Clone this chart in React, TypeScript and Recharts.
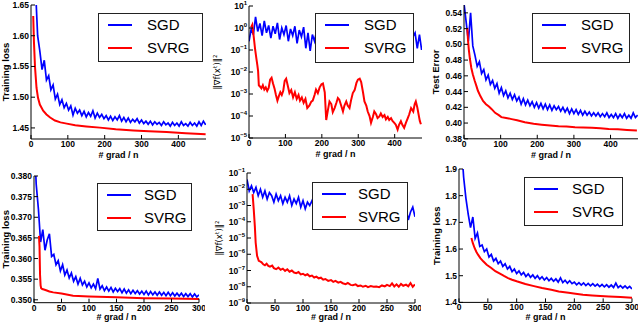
import React from "react";
import { LineChart, Line, XAxis, YAxis } from "recharts";

// sample positions (# grad / n)
const TOP_X = [0,6,12,18,24,30,36,42,48,54,60,66,72,78,84,90,96,102,108,114,120,126,132,138,144,150,156,162,168,174,180,186,192,198,204,210,216,222,228,234,240,246,252,258,264,270,276,282,288,294,300,306,312,318,324,330,336,342,348,354,360,366,372,378,384,390,396,402,408,414,420,426,432,438,444,450,456,462,468,474];
const BOTTOM_X = [0,4,8,12,16,20,24,28,32,36,40,44,48,52,56,60,64,68,72,76,80,84,88,92,96,100,104,108,112,116,120,124,128,132,136,140,144,148,152,156,160,164,168,172,176,180,184,188,192,196,200,204,208,212,216,220,224,228,232,236,240,244,248,252,256,260,264,268,272,276,280,284,288,292,296,300];

// top left: training loss
const loss1Sgd = [2.00,1.80,1.68,1.60,1.575,1.545,1.560,1.528,1.535,1.512,1.520,1.497,1.505,1.488,1.496,1.483,1.490,1.479,1.486,1.471,1.482,1.474,1.479,1.470,1.477,1.468,1.475,1.469,1.478,1.466,1.474,1.467,1.472,1.465,1.470,1.463,1.469,1.462,1.468,1.463,1.470,1.461,1.467,1.460,1.466,1.459,1.464,1.460,1.465,1.458,1.463,1.457,1.461,1.456,1.461,1.455,1.460,1.456,1.459,1.454,1.460,1.455,1.458,1.453,1.459,1.454,1.458,1.453,1.460,1.454,1.457,1.453,1.459,1.454,1.458,1.453,1.460,1.454,1.461,1.455];
const loss1SvrgX = [6,8,11,15,19,24,33,42,52,65,80,97,120,150,187,230,278,320,368,420,474];
const loss1Svrg = [1.632,1.590,1.548,1.515,1.499,1.488,1.478,1.472,1.467,1.462,1.459,1.457,1.4545,1.4525,1.4505,1.448,1.446,1.4448,1.4435,1.4415,1.4398];

// top middle: squared gradient norm
const grad1Sgd = [0.25,0.9,0.5,3.2,0.7,1.6,0.45,2.1,0.6,1.3,0.35,1.2,0.55,1.7,0.3,1.0,0.5,1.3,0.25,0.9,0.45,1.2,0.2,0.8,0.4,1.1,0.12,0.6,0.09,0.5,0.25,0.8,0.3,0.9,0.2,0.7,0.35,1.0,0.25,0.6,0.3,0.9,0.2,0.7,0.35,0.8,0.2,0.6,0.3,0.9,0.25,0.7,0.3,0.8,0.2,0.6,0.3,0.7,0.2,0.5,0.3,0.8,0.2,0.6,0.25,0.7,0.2,0.5,0.3,0.7,0.2,0.5,0.25,0.6,0.15,0.4,0.6,0.12,0.5,0.1];
const grad1SvrgX = [6,9,13,17,20,23,25,27,30,34,38,42,46,50,54,58,62,66,70,74,78,82,86,90,94,98,102,107,111,116,121,126,131,136,140,145,150,155,160,166,171,175,180,184,189,194,199,203,208,212,217,221,226,230,235,240,244,248,253,258,262,267,271,276,280,285,290,295,299,304,308,313,317,322,326,331,335,340,344,349,353,358,362,367,372,376,381,385,390,394,399,403,408,412,417,421,426,431,436,440,445,451,455,458,462,466,469,472];
const grad1Svrg = [1.1,1.4,0.4,0.1,0.044,0.02,0.011,0.0025,0.0022,0.0018,0.0025,0.0016,0.002,0.0014,0.0019,0.0045,0.0055,0.003,0.0018,0.0009,0.0005,0.0008,0.0012,0.0009,0.0014,0.004,0.005,0.0022,0.0011,0.0015,0.0007,0.0012,0.0006,0.0009,0.0005,0.0007,0.0004,0.0006,0.00023,0.0003,0.00045,0.0005,0.0009,0.0016,0.0011,0.002,0.0028,0.003,0.0012,0.000066,0.0002,0.00046,0.00035,0.00015,0.00023,0.0004,0.00066,0.00055,0.0003,0.00016,0.0003,0.00046,0.0003,0.00023,0.0005,0.0011,0.0015,0.0032,0.0045,0.005,0.0035,0.0012,0.00046,0.0003,0.00016,0.0001,0.000049,0.00009,0.00016,0.00012,0.00008,0.000095,0.00013,0.00009,0.00011,0.00007,0.00009,0.000066,0.00008,0.00006,0.000049,0.00004,0.000024,0.00004,0.000058,0.00004,0.000029,0.00005,0.000081,0.00012,0.00023,0.00016,0.00035,0.00046,0.00025,0.00011,0.00006,0.000042];

// top right: test error
const errSgd = [0.552,0.528,0.504,0.540,0.498,0.486,0.472,0.478,0.463,0.468,0.455,0.461,0.449,0.454,0.444,0.450,0.438,0.445,0.435,0.441,0.432,0.438,0.430,0.436,0.428,0.433,0.424,0.431,0.423,0.429,0.422,0.427,0.420,0.426,0.419,0.425,0.418,0.424,0.417,0.423,0.416,0.422,0.417,0.421,0.415,0.420,0.414,0.419,0.412,0.418,0.412,0.417,0.411,0.416,0.410,0.415,0.410,0.414,0.409,0.413,0.409,0.413,0.408,0.412,0.408,0.413,0.407,0.411,0.407,0.412,0.406,0.411,0.407,0.412,0.406,0.410,0.406,0.413,0.407,0.410];
const errSvrgX = [9,11,13,16,20,24,29,34,38,45,52,60,68,75,85,95,102,115,130,145,166,190,212,235,258,280,303,325,349,372,395,420,445,472];
const errSvrg = [0.521,0.505,0.494,0.482,0.470,0.462,0.454,0.447,0.441,0.434,0.428,0.424,0.421,0.418,0.413,0.410,0.4075,0.4065,0.405,0.4035,0.401,0.399,0.398,0.397,0.3958,0.3955,0.3947,0.3945,0.394,0.3935,0.3926,0.392,0.3912,0.3905];

// bottom left: training loss
const loss2Sgd = [0.390,0.378,0.372,0.364,0.367,0.362,0.3645,0.366,0.3605,0.3610,0.3585,0.3595,0.3570,0.3585,0.3560,0.3572,0.3553,0.3565,0.3545,0.3556,0.3538,0.3552,0.3536,0.3545,0.3531,0.3541,0.3529,0.3538,0.3527,0.3552,0.3526,0.3534,0.3522,0.3531,0.3521,0.3530,0.3519,0.3528,0.3520,0.3527,0.3517,0.3526,0.3516,0.3524,0.3515,0.3523,0.3515,0.3522,0.3514,0.3521,0.3513,0.3521,0.3512,0.3520,0.3512,0.3519,0.3511,0.3519,0.3511,0.3518,0.3510,0.3518,0.3510,0.3517,0.3509,0.3516,0.3509,0.3516,0.3508,0.3515,0.3508,0.3515,0.3507,0.3514,0.3507,0.3512];
const loss2SvrgX = [9,10,11,12,13,15,18,22,28,35,50,71,100,150,200,250,300];
const loss2Svrg = [0.3655,0.363,0.356,0.3535,0.3528,0.3526,0.3525,0.3523,0.352,0.3518,0.3515,0.351,0.3508,0.3506,0.3504,0.3503,0.3502];

// bottom middle: squared gradient norm
const grad2Sgd = [4.0e-2,7.9e-3,1.6e-2,6.3e-3,1.3e-2,4.0e-3,1.0e-2,3.2e-3,7.9e-3,2.5e-3,6.3e-3,4.0e-3,1.6e-3,5.0e-3,2.0e-3,4.0e-3,1.3e-3,3.2e-3,1.6e-3,4.0e-3,1.0e-3,2.5e-3,1.3e-3,3.2e-3,7.9e-4,2.0e-3,6.3e-4,1.6e-3,1.0e-3,2.0e-3,6.3e-4,1.6e-3,7.9e-4,1.6e-3,5.0e-4,1.3e-3,6.3e-4,1.3e-3,4.0e-4,1.0e-3,5.0e-4,1.3e-3,4.0e-4,1.0e-3,5.0e-4,1.0e-3,3.2e-4,7.9e-4,4.0e-4,1.0e-3,3.2e-4,7.9e-4,4.0e-4,7.9e-4,2.5e-4,6.3e-4,3.2e-4,7.9e-4,2.5e-4,6.3e-4,3.2e-4,6.3e-4,2.0e-4,5.0e-4,2.5e-4,6.3e-4,2.0e-4,5.0e-4,2.5e-4,5.0e-4,1.6e-4,6.3e-4,1.3e-4,4.0e-4,7.9e-4,2.0e-4];
const grad2SvrgX = [10,12,14,15.5,18,21,24,26,29,32,35,38,41,45,48,52,56,60,64,68,72,76,80,84,88,92,96,100,104,108,112,116,120,124,128,132,136,140,145,150,154,158,163,167,171,176,180,185,189,194,198,203,207,212,216,221,226,231,236,241,246,250,255,259,263,267,271,275,279,284,288,292,296,300];
const grad2Svrg = [5.0e-3,6.0e-4,5.4e-5,5.1e-6,8.0e-7,3.9e-7,3.5e-7,3.2e-7,2.4e-7,2.1e-7,2.6e-7,1.9e-7,1.7e-7,2.0e-7,1.4e-7,1.2e-7,1.5e-7,1.1e-7,1.3e-7,9.5e-8,1.2e-7,8.5e-8,1.0e-7,7.5e-8,6.9e-8,8.0e-8,5.8e-8,6.3e-8,5.1e-8,5.9e-8,4.4e-8,4.9e-8,3.7e-8,4.2e-8,3.3e-8,3.6e-8,2.7e-8,3.0e-8,2.3e-8,2.6e-8,2.0e-8,2.3e-8,1.8e-8,2.0e-8,1.65e-8,1.45e-8,1.7e-8,1.3e-8,1.25e-8,1.4e-8,1.1e-8,1.2e-8,1.0e-8,1.15e-8,9.5e-9,1.1e-8,1.0e-8,1.05e-8,9.5e-9,1.2e-8,1.05e-8,1.3e-8,1.1e-8,1.6e-8,1.05e-8,1.4e-8,1.0e-8,1.5e-8,1.15e-8,1.35e-8,1.05e-8,1.7e-8,1.0e-8,1.4e-8];

// bottom right: training loss
const loss3Sgd = [2.2,2.0,1.87,1.79,1.73,1.68,1.72,1.64,1.66,1.61,1.615,1.59,1.60,1.57,1.58,1.555,1.565,1.545,1.555,1.535,1.545,1.525,1.535,1.515,1.525,1.508,1.518,1.503,1.512,1.497,1.507,1.494,1.503,1.490,1.500,1.487,1.496,1.484,1.493,1.481,1.490,1.479,1.488,1.476,1.492,1.474,1.483,1.472,1.481,1.470,1.476,1.466,1.474,1.465,1.473,1.463,1.471,1.462,1.470,1.461,1.468,1.459,1.467,1.458,1.466,1.457,1.465,1.456,1.472,1.455,1.463,1.454,1.462,1.453,1.460,1.450];
const loss3SvrgX = [21.5,24,27,30,33,37,42,48,56,63,71,78,85,92,100,115,130,144,160,173,190,202,215,231,245,260,280,300];
const loss3Svrg = [1.641,1.622,1.604,1.59,1.579,1.566,1.554,1.541,1.529,1.517,1.5075,1.499,1.491,1.485,1.479,1.469,1.461,1.454,1.447,1.441,1.436,1.4325,1.429,1.426,1.424,1.4225,1.42,1.4175];

// ticks
const TOP_X_TICKS = [0, 100, 200, 300, 400];
const BOTTOM_X_TICKS = [0, 50, 100, 150, 200, 250, 300];
const LOSS1_TICKS = [1.45, 1.5, 1.55, 1.6, 1.65];
const GRAD1_TICKS = [1e-5, 1e-4, 1e-3, 1e-2, 1e-1, 1, 10];
const ERR_TICKS = [0.38, 0.4, 0.42, 0.44, 0.46, 0.48, 0.5, 0.52, 0.54];
const LOSS2_TICKS = [0.35, 0.355, 0.36, 0.365, 0.37, 0.375, 0.38];
const GRAD2_TICKS = [1e-9, 1e-8, 1e-7, 1e-6, 1e-5, 1e-4, 1e-3, 1e-2, 1e-1];
const LOSS3_TICKS = [1.4, 1.5, 1.6, 1.7, 1.8, 1.9];

const SERIES = [
  { name: "SGD", color: "#0000ff" },
  { name: "SVRG", color: "#ff0000" },
];

const FONT = "'Liberation Sans', Arial, sans-serif";
const GRAD_LABEL = "\u2016\u2207f(x\u1d57)\u2016\u00b2";
const TOP_PAD = 10;

const pts = (xs: number[], ys: number[]) => xs.map((x, i) => ({ x, y: ys[i] }));

const tickStyle = { fontSize: 8.5, fontWeight: 700, fill: "#000", fontFamily: FONT };

function LogTick(props: any) {
  const { x, y, payload } = props;
  const e = Math.round(Math.log10(payload.value));
  return (
    <text x={x} y={y} dy={3} textAnchor="end" fontSize={8.5} fontWeight={700} fontFamily={FONT} fill="#000">
      10<tspan dy={-4} fontSize={6}>{e < 0 ? "\u2212" + -e : String(e)}</tspan>
    </text>
  );
}

const NoTick = () => <g />;

const yTitle = (text: string, dx: number, math: boolean) => (props: any) => {
  const vb = props.viewBox || { x: 0, y: 0, width: 0, height: 0 };
  const cx = vb.x + dx;
  const cy = vb.y + vb.height / 2;
  return (
    <text
      x={cx}
      y={cy}
      transform={`rotate(-90 ${cx} ${cy})`}
      textAnchor="middle"
      dominantBaseline="central"
      fontSize={math ? 8.5 : 9.5}
      fontWeight={math ? 400 : 700}
      fontFamily={math ? "'DejaVu Sans', sans-serif" : FONT}
      fill="#000"
    >
      {text}
    </text>
  );
};

const xTitle = (dy: number) => (props: any) => {
  const vb = props.viewBox || { x: 0, y: 0, width: 0, height: 0 };
  return (
    <text x={vb.x + vb.width / 2} y={vb.y + dy} textAnchor="middle" dominantBaseline="central" fontSize={9} fontWeight={700} fontFamily={FONT} fill="#000">
      # grad / n
    </text>
  );
};

const PANELS = [
  { left: 31, top: 4.5, w: 175, h: 134, yw: 31, xDomain: [0, 475], xTicks: TOP_X_TICKS, yDomain: [1.432, 1.65], yTicks: LOSS1_TICKS, log: false, digits: 2, title: "Training loss", dx: 5, tdy: 16, sgd: pts(TOP_X, loss1Sgd), svrg: pts(loss1SvrgX, loss1Svrg), legend: { left: 98, top: 13, w: 105, h: 49, tx: 49 } },
  { left: 249, top: 5.5, w: 173, h: 132, yw: 40, xDomain: [0, 475], xTicks: TOP_X_TICKS, yDomain: [1e-5, 10], yTicks: GRAD1_TICKS, log: true, digits: 0, title: GRAD_LABEL, dx: 8, tdy: 16, sgd: pts(TOP_X, grad1Sgd), svrg: pts(grad1SvrgX, grad1Svrg), legend: { left: 315, top: 13, w: 99, h: 50, tx: 49 } },
  { left: 464, top: 4.5, w: 174, h: 133.8, yw: 40, xDomain: [0, 475], xTicks: TOP_X_TICKS, yDomain: [0.38, 0.55], yTicks: ERR_TICKS, log: false, digits: 2, title: "Test Error", dx: 12, tdy: 16, sgd: pts(TOP_X, errSgd), svrg: pts(errSvrgX, errSvrg), legend: { left: 532, top: 13, w: 98, h: 50, tx: 49 } },
  { left: 34, top: 176, w: 165, h: 126.7, yw: 34, xDomain: [0, 300], xTicks: BOTTOM_X_TICKS, yDomain: [0.3493, 0.38], yTicks: LOSS2_TICKS, log: false, digits: 3, title: "Training loss", dx: 5, tdy: 14.5, sgd: pts(BOTTOM_X, loss2Sgd), svrg: pts(loss2SvrgX, loss2Svrg), legend: { left: 97, top: 183, w: 95, h: 48, tx: 47 } },
  { left: 247, top: 173.3, w: 168, h: 130, yw: 38, xDomain: [0, 300], xTicks: BOTTOM_X_TICKS, yDomain: [1e-9, 1e-1], yTicks: GRAD2_TICKS, log: true, digits: 0, title: GRAD_LABEL, dx: 10, tdy: 13.5, sgd: pts(BOTTOM_X, grad2Sgd), svrg: pts(grad2SvrgX, grad2Svrg), legend: { left: 312, top: 182, w: 96, h: 48, tx: 46 } },
  { left: 459, top: 169.3, w: 173, h: 133.4, yw: 35, xDomain: [0, 300], xTicks: BOTTOM_X_TICKS, yDomain: [1.4, 1.9], yTicks: LOSS3_TICKS, log: false, digits: 1, title: "Training loss", dx: 13, tdy: 14.5, sgd: pts(BOTTOM_X, loss3Sgd), svrg: pts(loss3SvrgX, loss3Svrg), legend: { left: 524, top: 177, w: 99, h: 49, tx: 48 } },
];

function Panel({ p }: { p: any }) {
  const chartW = p.yw + p.w + 6;
  const chartH = TOP_PAD + p.h + 22;
  const yScale = p.log ? "log" : "auto";
  const fmt = (v: number) => v.toFixed(p.digits);
  return (
    <div style={{ position: "absolute", left: p.left - p.yw, top: p.top - TOP_PAD }}>
      <LineChart width={chartW} height={chartH} margin={{ top: TOP_PAD, right: 6, bottom: 0, left: 0 }}>
        <XAxis xAxisId="b" dataKey="x" type="number" domain={p.xDomain} ticks={p.xTicks} interval={0} allowDataOverflow height={22} stroke="#000" tickSize={-4} tickMargin={6} tick={tickStyle} label={xTitle(p.tdy)} />
        <XAxis xAxisId="t" orientation="top" dataKey="x" type="number" domain={p.xDomain} ticks={p.xTicks} interval={0} allowDataOverflow height={0} stroke="#000" tickSize={-4} tick={NoTick} />
        <YAxis yAxisId="l" type="number" scale={yScale} domain={p.yDomain} ticks={p.yTicks} interval={0} allowDataOverflow width={p.yw} stroke="#000" tickSize={-4} tickMargin={6} tick={p.log ? LogTick : tickStyle} tickFormatter={p.log ? undefined : fmt} label={yTitle(p.title, p.dx, p.log)} />
        <YAxis yAxisId="r" orientation="right" type="number" scale={yScale} domain={p.yDomain} ticks={p.yTicks} interval={0} allowDataOverflow width={0} stroke="#000" tickSize={-4} tick={NoTick} />
        <Line xAxisId="b" yAxisId="l" data={p.sgd} dataKey="y" type="linear" stroke={SERIES[0].color} strokeWidth={1.7} dot={false} activeDot={false} isAnimationActive={false} />
        <Line xAxisId="b" yAxisId="l" data={p.svrg} dataKey="y" type="linear" stroke={SERIES[1].color} strokeWidth={2} dot={false} activeDot={false} isAnimationActive={false} />
      </LineChart>
    </div>
  );
}

function LegendBox({ l }: { l: any }) {
  return (
    <div style={{ position: "absolute", left: l.left, top: l.top, width: l.w, height: l.h, background: "#fff", border: "1px solid #222", boxSizing: "border-box", fontFamily: FONT, fontSize: 15, color: "#000" }}>
      {SERIES.map((s, i) => (
        <React.Fragment key={s.name}>
          <div style={{ position: "absolute", left: 9, top: 9.5 + 23 * i, width: 24, height: 2, background: s.color }} />
          <div style={{ position: "absolute", left: l.tx - 1, top: 3 + 23 * i, lineHeight: "15px", whiteSpace: "nowrap" }}>{s.name}</div>
        </React.Fragment>
      ))}
    </div>
  );
}

export default function App() {
  return (
    <div style={{ position: "absolute", left: 0, top: 0, width: 640, height: 323, background: "#fff", overflow: "hidden", fontFamily: FONT }}>
      {PANELS.map((p, i) => (
        <Panel key={i} p={p} />
      ))}
      {PANELS.map((p, i) => (
        <LegendBox key={"l" + i} l={p.legend} />
      ))}
    </div>
  );
}
